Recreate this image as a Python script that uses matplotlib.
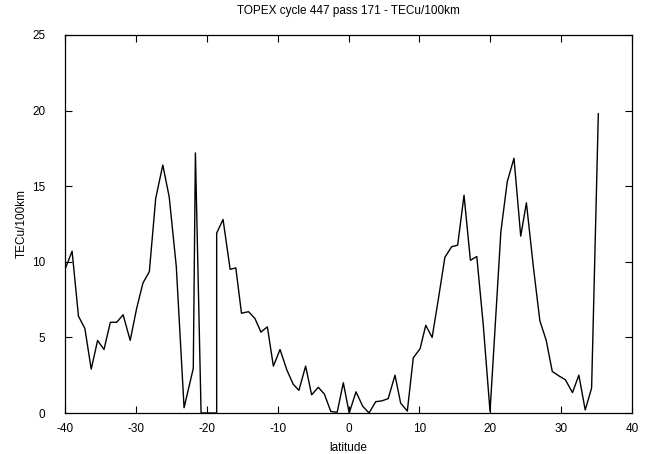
import matplotlib
matplotlib.use("Agg")
import matplotlib.pyplot as plt

lat = [-40.0, -39.0, -38.1, -37.2, -36.3, -35.4, -34.5, -33.6, -32.7, -31.8,
       -30.8, -29.9, -29.0, -28.1, -27.2, -26.2, -25.3, -24.3, -23.2, -21.9,
       -21.6, -20.8, -18.6, -18.6, -17.7, -16.7, -15.9, -15.1, -14.1, -13.2,
       -12.35, -11.45, -10.6, -9.66, -8.7, -7.8, -7.0, -6.05, -5.2, -4.26,
       -3.4, -2.5, -1.6, -0.73, 0.1, 1.06, 2.0, 2.9, 3.84, 4.7,
       5.6, 6.56, 7.36, 8.3, 9.14, 10.1, 10.9, 11.8, 12.7, 13.6,
       14.56, 15.4, 16.3, 17.2, 18.1, 19.0, 19.97, 21.5, 22.4, 23.35,
       24.3, 25.1, 26.1, 27.0, 27.9, 28.75, 29.7, 30.6, 31.6, 32.5,
       33.4, 34.3, 35.25]
tec = [9.5, 10.7, 6.4, 5.6, 2.9, 4.8, 4.2, 6.0, 6.0, 6.5,
       4.8, 6.9, 8.6, 9.35, 14.2, 16.4, 14.3, 9.7, 0.35, 2.95,
       17.2, 0.0, 0.0, 11.9, 12.8, 9.5, 9.6, 6.6, 6.7, 6.25,
       5.35, 5.7, 3.1, 4.2, 2.85, 1.9, 1.5, 3.1, 1.2, 1.7,
       1.25, 0.1, 0.05, 2.0, 0.0, 1.4, 0.45, 0.0, 0.75, 0.8,
       0.95, 2.5, 0.65, 0.13, 3.65, 4.25, 5.8, 5.0, 7.6, 10.3,
       11.0, 11.1, 14.4, 10.1, 10.35, 5.9, 0.1, 12.0, 15.3, 16.85,
       11.7, 13.9, 9.6, 6.1, 4.8, 2.75, 2.45, 2.2, 1.35, 2.5,
       0.2, 1.65, 19.8]

xticks = [-40, -30, -20, -10, 0, 10, 20, 30, 40]
yticks = [0, 5, 10, 15, 20, 25]

plt.rcParams['font.family'] = ['Liberation Sans', 'DejaVu Sans']
plt.rcParams['axes.unicode_minus'] = False
fig = plt.figure(figsize=(6.51, 4.54), dpi=100)
ax = fig.add_axes([65/651, 41/454, 567/651, 378/454])
ax.plot(lat, tec, color='black', linewidth=1.0)
ax.set_xlim(-40, 40)
ax.set_ylim(0, 25)
ax.set_xticks(xticks)
ax.set_yticks(yticks)
ax.tick_params(direction='in', top=True, right=True, length=5, width=0.8,
               labelsize=8.5)
ax.tick_params(axis='x', pad=7)
ax.tick_params(axis='y', pad=14)
for s in ax.spines.values():
    s.set_linewidth(0.9)
ax.set_xlabel('latitude', fontsize=8.5, labelpad=5)
ax.set_ylabel('TECu/100km', fontsize=8.5, labelpad=3)
ax.set_title('TOPEX cycle 447 pass 171 - TECu/100km', fontsize=8.5, pad=15)
fig.savefig('out.png', dpi=100)
